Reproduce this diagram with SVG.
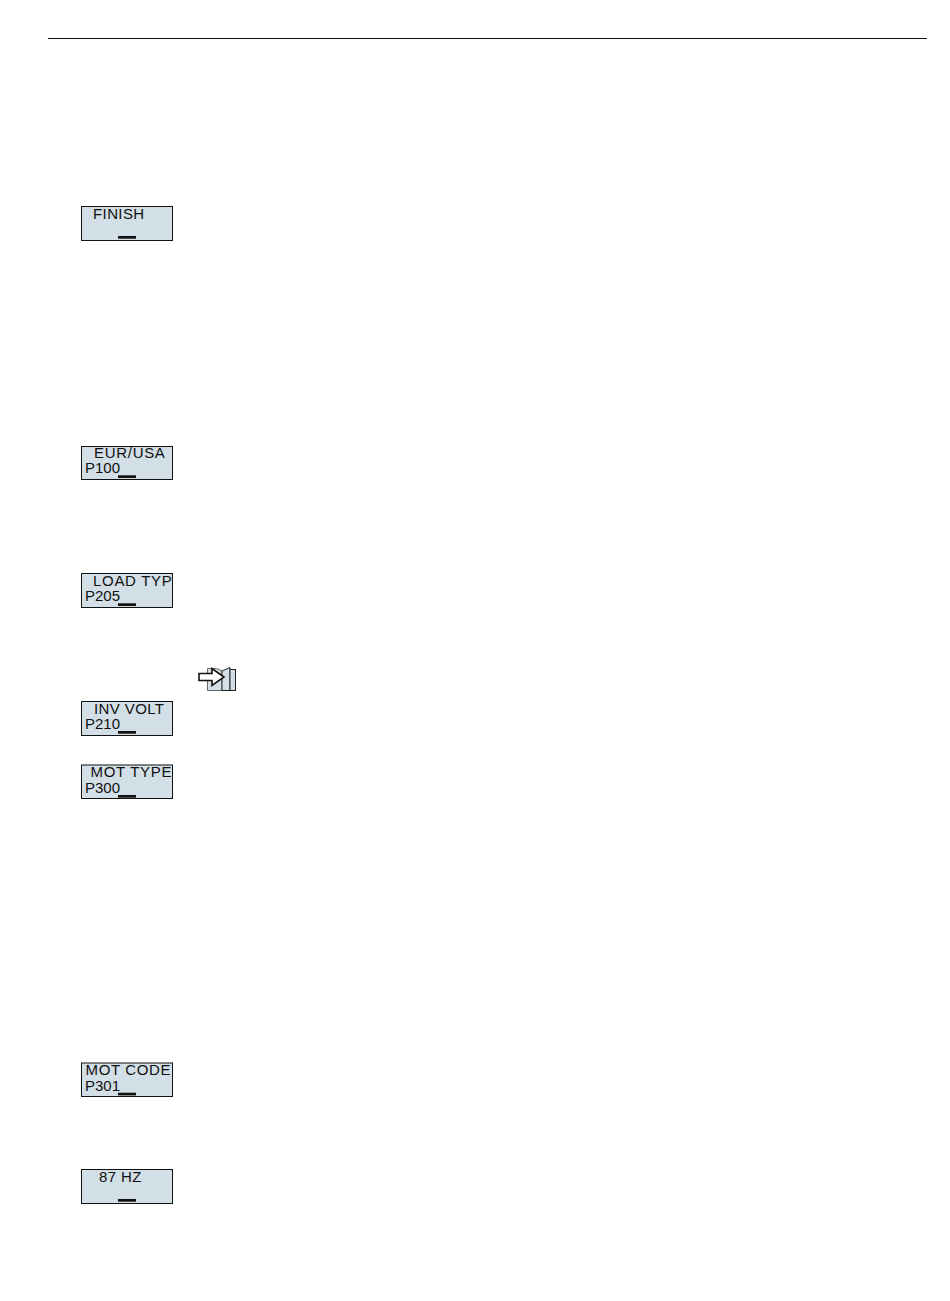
<svg xmlns="http://www.w3.org/2000/svg" width="950" height="1301" viewBox="0 0 950 1301">
<style>
text{font-family:"Liberation Sans",Arial,sans-serif;fill:#111}
.t{font-size:15px}
.p{font-size:15px}
.b{fill:#d3dfe6;stroke:#111;stroke-width:1}
.u{fill:#111;stroke:none}
</style>
<rect width="950" height="1301" fill="#fff"/>
<rect id="rule" x="48" y="38" width="879" height="1" fill="#111"/>
<g id="finish"><rect class="b" x="81.500" y="206.500" width="91" height="34"/><rect class="u" x="118" y="236" width="18" height="2.700"/><text class="t" x="93" y="219" letter-spacing="0.4">FINISH</text></g>
<g id="eurusa"><rect class="b" x="81.500" y="446.500" width="91" height="33"/><rect class="u" x="118" y="475.300" width="18" height="2.700"/><text class="t" x="94" y="458" letter-spacing="0.7">EUR/USA</text><text class="p" x="85" y="473">P100</text></g>
<g id="loadtyp"><rect class="b" x="81.500" y="573.500" width="91" height="34"/><rect class="u" x="118" y="603.300" width="18" height="2.700"/><text class="t" x="93" y="586" letter-spacing="0.7">LOAD TYP</text><text class="p" x="85" y="601">P205</text></g>
<g id="invvolt"><rect class="b" x="81.500" y="701.500" width="91" height="34"/><rect class="u" x="118" y="731" width="18" height="2.700"/><text class="t" x="94" y="714" letter-spacing="0.4">INV VOLT</text><text class="p" x="85" y="729">P210</text></g>
<g id="mottype"><rect class="b" x="81.500" y="765" width="91" height="33.500"/><rect class="u" x="118" y="795" width="18" height="2.700"/><text class="t" x="90.500" y="777" letter-spacing="0.7">MOT TYPE</text><text class="p" x="85" y="793">P300</text></g>
<g id="motcode"><rect class="b" x="81.500" y="1063" width="91" height="33.500"/><rect class="u" x="118" y="1092.700" width="18" height="2.700"/><text class="t" x="85.500" y="1075" letter-spacing="0.65">MOT CODE</text><text class="p" x="85" y="1091">P301</text></g>
<g id="hz87"><rect class="b" x="81.500" y="1169.500" width="91" height="34"/><rect class="u" x="118" y="1199" width="18" height="2.700"/><text class="t" x="99" y="1182" letter-spacing="0.4">87 HZ</text></g>
<g id="bookicon">
<path d="M207.500 668.500h9l5.500 2.500v19.500h-14.500z" fill="#d3dfe6" stroke="#666" stroke-width="1"/>
<path d="M222 671l8-3.500v23h-8z" fill="#d3dfe6" stroke="#222" stroke-width="1"/>
<rect x="230" y="669.500" width="5.500" height="21" fill="#d3dfe6" stroke="#222" stroke-width="1"/>
<path d="M199 673.500h13v-5l12 8.500-12 8.500v-5h-13z" fill="#fff" stroke="#111" stroke-width="1.600"/>
</g>
</svg>
